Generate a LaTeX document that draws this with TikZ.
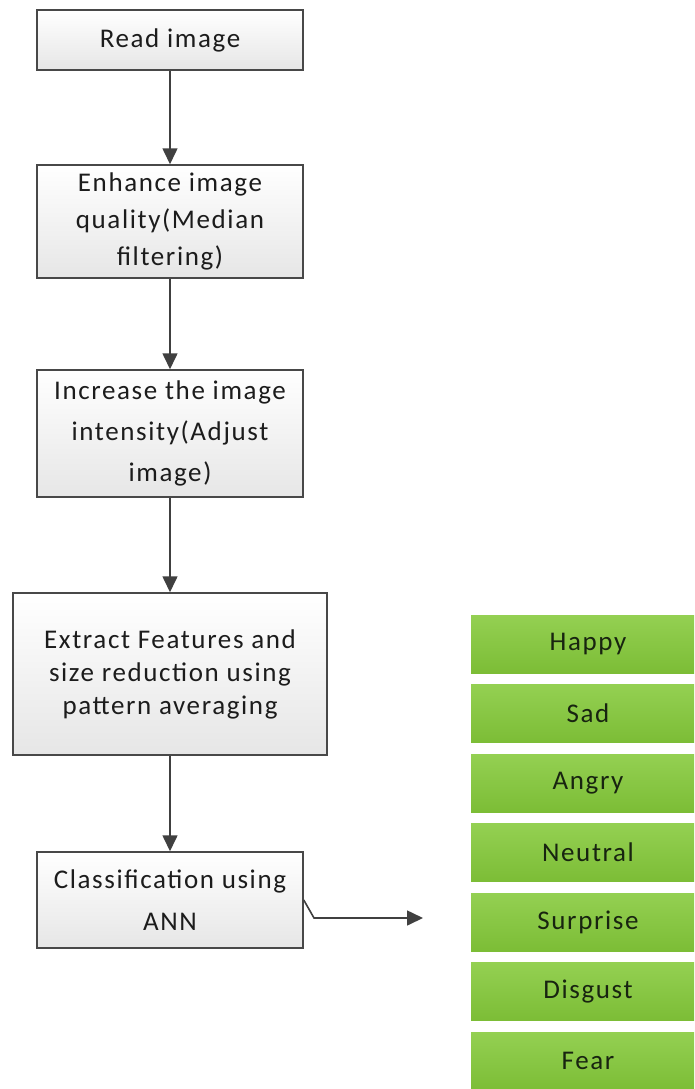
\documentclass[tikz,border=0pt]{standalone}
\usepackage{fontspec}
\setmainfont{Carlito}[LetterSpace=6]
\usetikzlibrary{arrows.meta,positioning}
\definecolor{boxline}{RGB}{72,72,72}
\definecolor{arrowgray}{RGB}{64,64,64}
\definecolor{boxtop}{RGB}{255,255,255}
\definecolor{boxbot}{RGB}{230,230,230}
\definecolor{greentop}{RGB}{148,208,82}
\definecolor{greenbot}{RGB}{124,189,54}
\definecolor{labeltext}{RGB}{28,28,28}
\definecolor{greentext}{RGB}{24,36,16}
\tikzset{
  stepbox/.style={draw=boxline, line width=1.5pt, rectangle,
    top color=boxtop, bottom color=boxbot, align=center,
    text=labeltext, inner sep=0pt, minimum width=266pt},
  classbox/.style={rectangle, top color=greentop, bottom color=greenbot,
    text=greentext, minimum width=234pt, minimum height=58pt, inner sep=0pt,
    font=\fontsize{27}{30}\selectfont},
  flow/.style={draw=arrowgray, line width=1.6pt,
    -{Triangle[length=16pt,width=15pt]}},
}
\begin{document}
\begin{tikzpicture}[x=1pt,y=-1pt]
\useasboundingbox (0,0) rectangle (694,1089);
\clip (0,0) rectangle (694,1089);
\fill[white] (0,0) rectangle (694,1089);

% processing steps
\node[stepbox, minimum height=60pt, font=\fontsize{27}{33}\selectfont]
  (read) at (170,40) {Read image};
\node[stepbox, minimum height=113pt, font=\fontsize{27}{37}\selectfont]
  (enhance) at (170,221.5) {Enhance image\\quality(Median\\filtering)};
\node[stepbox, minimum height=127pt, font=\fontsize{27}{41}\selectfont]
  (intensity) at (170,433.5) {Increase the image\\intensity(Adjust\\image)};
\node[stepbox, minimum width=314pt, minimum height=162pt, font=\fontsize{27}{33}\selectfont]
  (extract) at (170,674) {Extract Features and\\size reduction using\\pattern averaging};
\node[stepbox, minimum height=96pt, font=\fontsize{27}{42}\selectfont]
  (classify) at (170,900) {Classification using\\ANN};

\draw[flow] (read) -- (enhance);
\draw[flow] (enhance) -- (intensity);
\draw[flow] (intensity) -- (extract);
\draw[flow] (extract) -- (classify);

% output classes
\node[classbox] (happy)    at (588,644)   {Happy};
\node[classbox] (sad)      at (588,713.5) {Sad};
\node[classbox] (angry)    at (588,783)   {Angry};
\node[classbox] (neutral)  at (588,852.5) {Neutral};
\node[classbox] (surprise) at (588,922)   {Surprise};
\node[classbox] (disgust)  at (588,991.5) {Disgust};
\node[classbox] (fear)     at (588,1061)  {Fear};

\coordinate (bend) at (314,918);
\coordinate (outtip) at (423,918);
\draw[flow] (classify.east) -- (bend) -- (outtip);
\end{tikzpicture}
\end{document}
